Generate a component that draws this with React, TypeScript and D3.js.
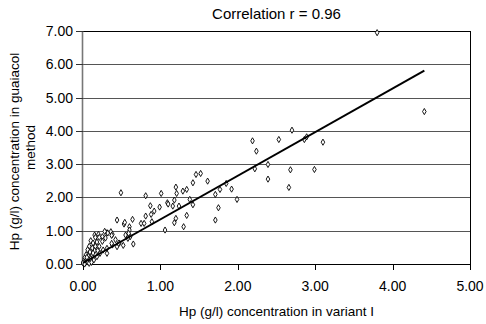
import { useMemo } from "react";
import * as d3 from "d3";

// Hp (g/l) measured by variant I (x) vs guaiacol method (y)
const variantI = [
  3.8, 4.41, 3.1, 2.7, 2.19, 2.53, 2.24, 2.86, 2.89, 2.22, 2.39, 2.68, 2.99, 2.39, 2.66, 1.92, 1.99,
  1.46, 1.52, 1.42, 1.61, 1.2, 1.29, 1.34, 1.21, 1.01, 1.71, 1.77, 1.85, 1.18, 1.09, 1.1, 1.16, 1.24,
  1.42, 0.99, 1.75, 1.2, 1.34, 1.71, 0.49, 0.81, 0.87, 0.92, 0.88, 0.81, 1.38, 1.18, 1.3, 1.06, 0.64,
  0.53, 0.54, 0.6, 0.6, 0.75, 0.79, 0.89, 0.55, 0.61, 0.59, 0.44,
  0.15, 0.2, 0.25, 0.31, 0.36, 0.38, 0.58, 0.28, 0.32, 0.16, 0.21, 0.1, 0.13, 0.18, 0.25, 0.29, 0.37,
  0.42, 0.47, 0.08, 0.12, 0.16, 0.21, 0.06, 0.09, 0.15, 0.19, 0.04, 0.07, 0.12, 0.02, 0.04, 0.07, 0.01,
  0.03, 0.0, 0.1, 0.06, 0.31, 0.38, 0.44, 0.46, 0.26, 0.22, 0.18, 0.37, 0.31,
  0.14, 0.02, 0.08, 0.11, 0.05, 0.13, 0.52, 0.65,
];
const guaiacol = [
  6.95, 4.58, 3.66, 4.02, 3.7, 3.74, 3.39, 3.74, 3.82, 2.86, 2.99, 2.83, 2.84, 2.55, 2.3, 2.25, 1.94,
  2.69, 2.72, 2.44, 2.49, 2.31, 2.19, 2.24, 2.12, 2.12, 2.09, 2.24, 2.42, 1.92, 1.84, 1.8, 1.74, 1.74,
  1.78, 1.71, 1.69, 1.37, 1.46, 1.32, 2.14, 2.05, 1.75, 1.59, 1.49, 1.44, 1.94, 1.24, 1.12, 1.02, 1.34,
  1.2, 1.25, 1.12, 1.02, 1.22, 1.22, 1.27, 0.87, 0.82, 0.92, 1.32,
  0.87, 0.89, 0.82, 0.94, 0.97, 0.89, 0.77, 0.98, 0.93, 0.8, 0.8, 0.7, 0.63, 0.66, 0.68, 0.78, 0.86,
  0.73, 0.63, 0.53, 0.48, 0.53, 0.53, 0.43, 0.36, 0.4, 0.4, 0.28, 0.23, 0.26, 0.18, 0.1, 0.13, 0.08,
  0.03, 0.03, 0.16, 0.06, 0.32, 0.57, 0.52, 0.62, 0.42, 0.32, 0.22, 0.62, 0.47,
  0.12, 0.0, 0.02, 0.05, 0.2, 0.33, 0.56, 0.6,
];

const xTicks = [0, 1, 2, 3, 4, 5];
const yTicks = [0, 1, 2, 3, 4, 5, 6, 7];

// linear fit drawn over the data range
const fitSlope = 1.31;
const fitIntercept = 0.03;

const W = 486;
const H = 324;
const font = "Liberation Sans, Arial, sans-serif";

export default function App() {
  const margin = { top: 31, right: 16, bottom: 60, left: 83 };
  const x = d3.scaleLinear().domain([0, 5]).range([margin.left, W - margin.right]);
  const y = d3.scaleLinear().domain([0, 7]).range([H - margin.bottom, margin.top]);

  const marker = useMemo(() => d3.symbol().type(d3.symbolDiamond).size(11)() ?? "", []);
  const xMax = d3.max(variantI) ?? 0;
  const fitLine = d3.line<number>()
    .x((d) => x(d))
    .y((d) => y(fitIntercept + fitSlope * d))([0, xMax]) ?? "";

  const [x0, x1] = x.range();
  const [y0, y1] = y.range();

  return (
    <svg width={W} height={H} style={{ position: "absolute", left: 0, top: 0, background: "#fff" }} fontFamily={font}>
      {/* gridlines */}
      {yTicks.slice(1).map((t) => (
        <line key={t} x1={x0} x2={x1} y1={Math.round(y(t)) + 0.5} y2={Math.round(y(t)) + 0.5}
          stroke={t === 7 ? "#000" : "#555"} strokeWidth={1} />
      ))}
      {/* right border */}
      <line x1={x1 + 0.5} x2={x1 + 0.5} y1={y1} y2={y0} stroke="#000" />
      {/* bottom axis */}
      <line x1={x0} x2={x1 + 1} y1={y0 + 0.5} y2={y0 + 0.5} stroke="#000" />
      {xTicks.map((t) => (
        <g key={t}>
          <line x1={Math.round(x(t)) + 0.5} x2={Math.round(x(t)) + 0.5} y1={y0} y2={y0 + 6} stroke="#000" />
          <text x={x(t)} y={y0 + 27} fontSize={14} textAnchor="middle" fill="#000">{t.toFixed(2)}</text>
        </g>
      ))}
      {/* left axis */}
      <line x1={x0 - 0.5} x2={x0 - 0.5} y1={y1} y2={y0 + 1} stroke="#777" strokeWidth={1.6} />
      {yTicks.map((t) => (
        <g key={t}>
          <line x1={x0 - 7} x2={x0} y1={Math.round(y(t)) + 0.5} y2={Math.round(y(t)) + 0.5} stroke="#333" />
          <text x={x0 - 10} y={y(t) + 5} fontSize={14} textAnchor="end" fill="#000">{t.toFixed(2)}</text>
        </g>
      ))}
      {/* points */}
      {variantI.map((v, i) => (
        <path key={i} d={marker} transform={`translate(${x(v)},${y(guaiacol[i])})`}
          fill="#fff" stroke="#000" strokeWidth={0.9} />
      ))}
      {/* regression line */}
      <path d={fitLine} fill="none" stroke="#000" strokeWidth={2} />
      {/* titles */}
      <text x={(x0 + x1) / 2} y={19} fontSize={15} textAnchor="middle" fill="#000">Correlation r = 0.96</text>
      <text x={(x0 + x1) / 2} y={316} fontSize={13.5} textAnchor="middle" fill="#000">Hp (g/l) concentration in variant I</text>
      <text transform={`translate(19,${(y0 + y1) / 2 + 4}) rotate(-90)`} fontSize={13.5} textAnchor="middle" fill="#000">
        Hp (g/l) concentration in guaiacol
      </text>
      <text transform={`translate(35,${(y0 + y1) / 2}) rotate(-90)`} fontSize={13.5} textAnchor="middle" fill="#000">
        method
      </text>
    </svg>
  );
}
